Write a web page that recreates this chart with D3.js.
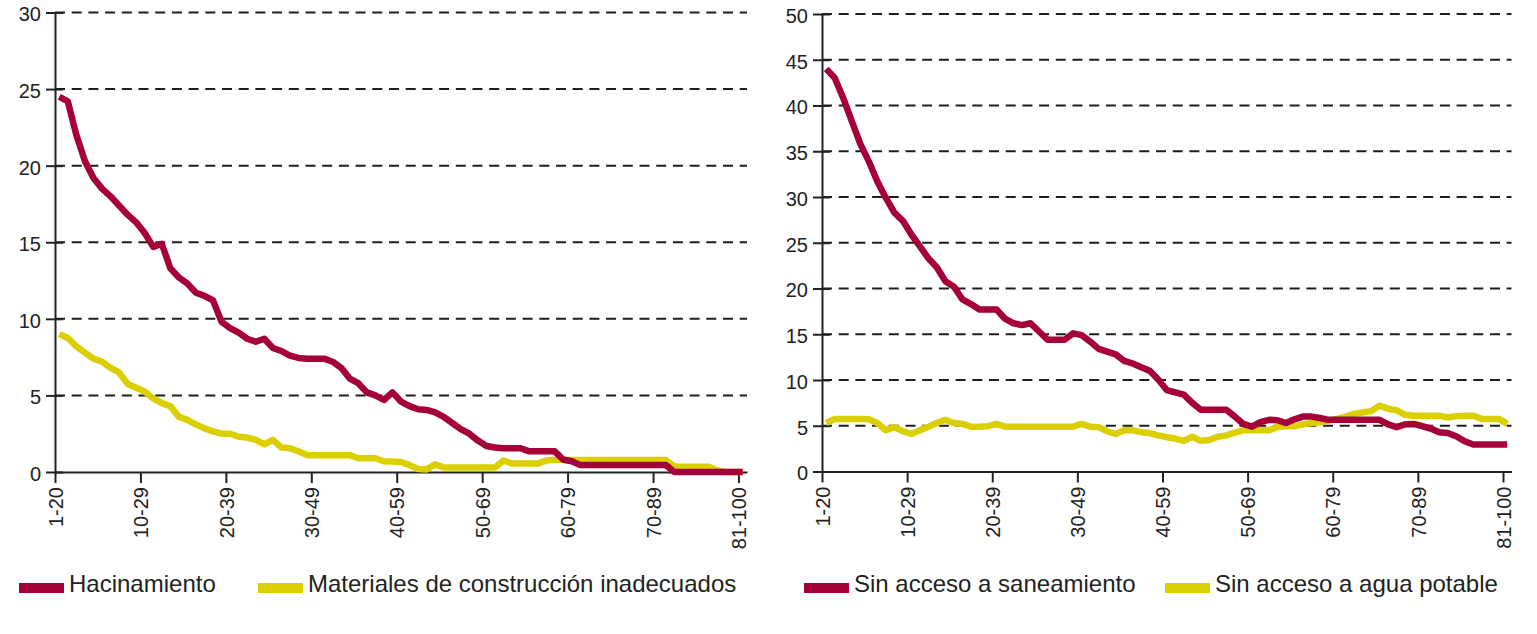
<!DOCTYPE html>
<html><head><meta charset="utf-8">
<script src="https://cdn.jsdelivr.net/npm/d3@7"></script>
<style>
body{margin:0;background:#fff}
svg{display:block}
text{font-family:"Liberation Sans",Arial,sans-serif;fill:#222}
</style>
</head><body>
<svg id="c" width="1537" height="634"></svg>
<script>
// ---- data ----
const tickLabels = ["1-20","10-29","20-39","30-49","40-59","50-69","60-79","70-89","81-100"];
const tickIndex = [0,10,20,30,40,50,60,70,80];

const hacinamiento = [24.5,24.2,22.0,20.3,19.2,18.5,18.0,17.4,16.8,16.3,
  15.6,14.7,14.9,13.3,12.7,12.3,11.7,11.5,11.2,9.8,
  9.4,9.1,8.7,8.5,8.7,8.1,7.9,7.6,7.45,7.4,
  7.4,7.4,7.2,6.8,6.1,5.8,5.2,5.0,4.7,5.2,
  4.6,4.3,4.1,4.05,3.9,3.6,3.2,2.8,2.5,2.05,
  1.7,1.6,1.55,1.55,1.55,1.35,1.35,1.35,1.35,0.8,
  0.7,0.45,0.45,0.45,0.45,0.45,0.45,0.45,0.45,0.45,
  0.45,0.45,0,0,0,0,0,0,0,0,0];
const materiales = [9.0,8.75,8.2,7.8,7.4,7.2,6.8,6.5,5.75,5.5,
  5.25,4.8,4.5,4.3,3.6,3.4,3.1,2.85,2.65,2.5,
  2.5,2.3,2.25,2.1,1.8,2.1,1.6,1.55,1.35,1.1,
  1.1,1.1,1.1,1.1,1.1,0.9,0.9,0.9,0.7,0.68,
  0.65,0.45,0.2,0.17,0.5,0.3,0.3,0.3,0.3,0.3,
  0.3,0.3,0.75,0.55,0.55,0.55,0.55,0.75,0.8,0.8,
  0.78,0.78,0.78,0.78,0.78,0.78,0.78,0.78,0.78,0.78,
  0.78,0.78,0.35,0.35,0.35,0.35,0.35,0.1,0,0,0];
const saneamiento = [44.0,43.0,40.8,38.3,35.8,33.9,31.7,29.9,28.3,27.4,
  25.9,24.6,23.3,22.3,20.8,20.2,18.8,18.3,17.7,17.7,
  17.7,16.7,16.2,16.0,16.2,15.3,14.4,14.4,14.4,15.1,
  14.9,14.2,13.4,13.1,12.8,12.1,11.8,11.4,11.0,10.05,
  8.9,8.65,8.4,7.5,6.75,6.75,6.75,6.75,6.0,5.2,
  4.9,5.4,5.65,5.6,5.3,5.7,6.0,6.0,5.85,5.65,
  5.65,5.65,5.65,5.65,5.65,5.65,5.15,4.85,5.15,5.2,
  4.95,4.7,4.3,4.2,3.85,3.3,2.95,2.95,2.95,2.95,2.95];
const aguaPotable = [5.3,5.75,5.75,5.75,5.75,5.7,5.3,4.5,4.85,4.4,
  4.1,4.5,4.9,5.3,5.65,5.3,5.2,4.9,4.9,4.95,
  5.2,4.9,4.9,4.9,4.9,4.9,4.9,4.9,4.9,4.9,
  5.2,4.9,4.85,4.4,4.1,4.5,4.5,4.3,4.2,3.95,
  3.75,3.6,3.35,3.8,3.35,3.45,3.8,3.95,4.25,4.5,
  4.5,4.5,4.5,4.85,4.95,4.95,5.15,5.3,5.35,5.55,
  5.75,6.0,6.3,6.45,6.6,7.2,6.85,6.7,6.2,6.1,
  6.1,6.1,6.1,5.9,6.05,6.1,6.1,5.75,5.75,5.75,5.2];

const leftYTicks = [0,5,10,15,20,25,30];
const rightYTicks = [0,5,10,15,20,25,30,35,40,45,50];
const leftLegend = ["Hacinamiento","Materiales de construcción inadecuados"];
const rightLegend = ["Sin acceso a saneamiento","Sin acceso a agua potable"];

// ---- drawing ----
const RED = "#a6003a", YEL = "#dccf00";
const svg = d3.select("#c");

function panel(o){
  const g = svg.append("g");
  const n = o.series[0].length;
  const x = d3.scaleLinear().domain([0, n]).range([o.x0, o.x1]);
  const y = d3.scaleLinear().domain([0, o.ymax]).range([o.yb, o.yt]);

  g.append("g").selectAll("line").data(o.yTicks.filter(d => d > 0)).join("line")
    .attr("x1", o.x0).attr("x2", o.x1)
    .attr("y1", d => y(d)).attr("y2", d => y(d))
    .attr("stroke", "#1e1e1e").attr("stroke-width", 2)
    .attr("stroke-dasharray", "10,6.7");

  const ya = g.append("g").attr("transform", `translate(${o.x0},0)`)
    .call(d3.axisLeft(y).tickValues(o.yTicks).tickSizeOuter(0).tickSizeInner(9).tickPadding(5));
  ya.select(".domain").attr("stroke", "#222").attr("stroke-width", 2);
  ya.selectAll(".tick line").attr("x1", 8).attr("stroke", "#222").attr("stroke-width", 2);
  ya.selectAll(".tick text").attr("font-size", 20).attr("dy", "0.42em")
    .attr("font-family", '"Liberation Sans",Arial,sans-serif').attr("fill", "#222");

  const xa = g.append("g").attr("transform", `translate(0,${o.yb})`)
    .call(d3.axisBottom(x).tickValues(tickIndex).tickFormat((d, i) => tickLabels[i])
      .tickSizeOuter(0).tickSizeInner(11));
  xa.select(".domain").attr("stroke", "#222").attr("stroke-width", 2);
  xa.selectAll(".tick line").attr("stroke", "#222").attr("stroke-width", 2);
  xa.selectAll(".tick text")
    .attr("transform", "rotate(-90)")
    .attr("text-anchor", "end")
    .attr("x", -15).attr("y", 0).attr("dy", "0.36em")
    .attr("font-size", 20)
    .attr("font-family", '"Liberation Sans",Arial,sans-serif').attr("fill", "#222");

  const line = d3.line().x((d, i) => x(i + 0.5)).y(d => y(d)).curve(d3.curveLinear);
  [[o.series[1], YEL], [o.series[0], RED]].forEach(([s, c]) => {
    g.append("path").datum(s).attr("d", line)
      .attr("fill", "none").attr("stroke", c).attr("stroke-width", 6.5)
      .attr("stroke-linejoin", "round").attr("stroke-linecap", "butt");
  });

  const lg = g.append("g");
  o.legend.forEach((name, k) => {
    const lx = o.legendX[k];
    lg.append("rect").attr("x", lx).attr("y", 583).attr("width", 45).attr("height", 10)
      .attr("fill", k === 0 ? RED : YEL);
    lg.append("text").attr("x", lx + 50).attr("y", 592).attr("font-size", 24).text(name);
  });
}

panel({series: [hacinamiento, materiales], ymax: 30, yTicks: leftYTicks,
       x0: 55, x1: 747, yt: 12.5, yb: 472, legend: leftLegend, legendX: [19, 258]});
panel({series: [saneamiento, aguaPotable], ymax: 50, yTicks: rightYTicks,
       x0: 822, x1: 1511.5, yt: 14, yb: 471.5, legend: rightLegend, legendX: [804, 1165]});
</script>
</body></html>
